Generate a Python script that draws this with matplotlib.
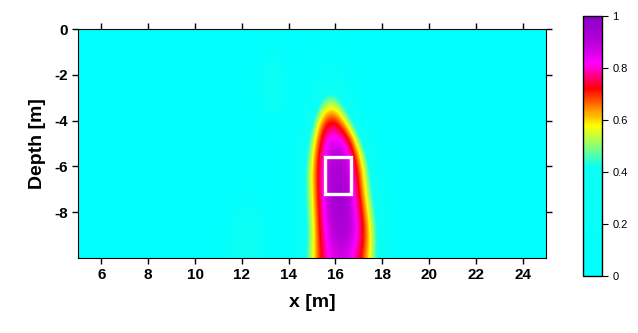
import numpy as np
import matplotlib
matplotlib.use("Agg")
import matplotlib.pyplot as plt
from matplotlib.colors import LinearSegmentedColormap
from matplotlib.patches import Rectangle

plt.rcParams["font.family"] = ["Liberation Sans", "DejaVu Sans"]
plt.rcParams["axes.unicode_minus"] = False

# grid nodes of the sensitivity image (0 elsewhere)
x_nodes = [11, 11.5, 12, 12.5, 13, 13.5, 14, 14.5, 15, 15.5, 16, 16.5, 17, 17.5, 18, 18.5, 19]
depth_nodes = [0, -1, -2, -3, -4, -5, -6, -7, -8, -9, -10]
values = [
    # 11  11.5  12  12.5   13  13.5   14  14.5   15  15.5   16  16.5   17  17.5   18  18.5   19
    [0.0, 0.0, 0.0, 0.0, 0.0, 0.0, 0.0, 0.0, 0.0, 0.0, 0.0, 0.0, 0.0, 0.0, 0.0, 0.0, 0.0],
    [0.0, 0.0, 0.0, 0.0, 0.10, 0.18, 0.0, 0.0, 0.05, 0.10, 0.10, 0.05, 0.0, 0.0, 0.0, 0.0, 0.0],
    [0.0, 0.0, 0.0, 0.05, 0.32, 0.45, 0.10, 0.0, 0.10, 0.24, 0.24, 0.10, 0.0, 0.0, 0.0, 0.0, 0.0],
    [0.0, 0.0, 0.0, 0.05, 0.36, 0.45, 0.10, 0.05, 0.20, 0.44, 0.46, 0.24, 0.05, 0.0, 0.0, 0.0, 0.0],
    [0.0, 0.0, 0.0, 0.0, 0.10, 0.15, 0.05, 0.12, 0.40, 0.70, 0.74, 0.52, 0.24, 0.0, 0.0, 0.0, 0.0],
    [0.0, 0.0, 0.0, 0.0, 0.0, 0.0, 0.05, 0.22, 0.53, 0.83, 0.89, 0.83, 0.52, 0.24, 0.0, 0.0, 0.0],
    [0.0, 0.0, 0.0, 0.0, 0.0, 0.0, 0.05, 0.30, 0.60, 0.86, 0.94, 0.91, 0.68, 0.38, 0.10, 0.0, 0.0],
    [0.0, 0.0, 0.05, 0.05, 0.0, 0.0, 0.05, 0.32, 0.59, 0.86, 0.96, 0.93, 0.72, 0.44, 0.18, 0.0, 0.0],
    [0.0, 0.10, 0.28, 0.28, 0.10, 0.0, 0.05, 0.30, 0.56, 0.85, 0.95, 0.94, 0.78, 0.52, 0.26, 0.05, 0.0],
    [0.0, 0.22, 0.43, 0.42, 0.15, 0.0, 0.05, 0.28, 0.54, 0.82, 0.92, 0.92, 0.82, 0.58, 0.30, 0.08, 0.0],
    [0.0, 0.22, 0.44, 0.43, 0.15, 0.0, 0.05, 0.32, 0.56, 0.78, 0.86, 0.86, 0.74, 0.56, 0.30, 0.08, 0.0],
]

box_x = [15.55, 16.65]
box_depth = [-5.6, -7.2]

x_ticks = [6, 8, 10, 12, 14, 16, 18, 20, 22, 24]
y_ticks = [0, -2, -4, -6, -8]
cb_ticks = [0, 0.2, 0.4, 0.6, 0.8, 1]
cb_labels = ["0", "0.2", "0.4", "0.6", "0.8", "1"]

cmap = LinearSegmentedColormap.from_list("sens", [
    (0.0, (0.0, 1.0, 1.0)),
    (0.42, (0.05, 1.0, 0.95)),
    (0.5, (0.55, 1.0, 0.45)),
    (0.58, (1.0, 1.0, 0.0)),
    (0.65, (1.0, 0.5, 0.0)),
    (0.72, (1.0, 0.0, 0.0)),
    (0.82, (1.0, 0.0, 1.0)),
    (0.9, (0.72, 0.0, 0.85)),
    (1.0, (0.55, 0.0, 0.8)),
])

fig = plt.figure(figsize=(6.38, 3.33), dpi=100)
ax = fig.add_axes([0.1223, 0.2252, 0.7335, 0.6877])
cax = fig.add_axes([0.9138, 0.1712, 0.0298, 0.7808])

ax.set_facecolor(cmap(0.0))
dx = x_nodes[1] - x_nodes[0]
dz = depth_nodes[0] - depth_nodes[1]
im = ax.imshow(np.array(values), cmap=cmap, vmin=0, vmax=1, interpolation="bicubic",
               extent=[x_nodes[0] - dx / 2, x_nodes[-1] + dx / 2,
                       depth_nodes[-1] - dz / 2, depth_nodes[0] + dz / 2],
               origin="upper", aspect="auto")
ax.add_patch(Rectangle((box_x[0], box_depth[1]), box_x[1] - box_x[0], box_depth[0] - box_depth[1],
                       fill=False, edgecolor="white", lw=2.4, zorder=3))

ax.set_xlim(5, 25)
ax.set_ylim(-10, 0)
ax.set_xticks(x_ticks)
ax.set_yticks(y_ticks)
ax.tick_params(direction="out", length=4, width=1, top=True, right=True, labelsize=11)
for lab in ax.get_xticklabels() + ax.get_yticklabels():
    lab.set_fontweight("bold")
ax.set_xlabel("x [m]", fontsize=14, fontweight="bold", labelpad=8)
ax.set_ylabel("Depth [m]", fontsize=14, fontweight="bold", labelpad=6)

cb = fig.colorbar(im, cax=cax)
cb.set_ticks(cb_ticks)
cb.set_ticklabels(cb_labels)
cb.ax.tick_params(direction="out", length=4, labelsize=8)
cb.outline.set_linewidth(1)

fig.savefig("out.png", dpi=100)
